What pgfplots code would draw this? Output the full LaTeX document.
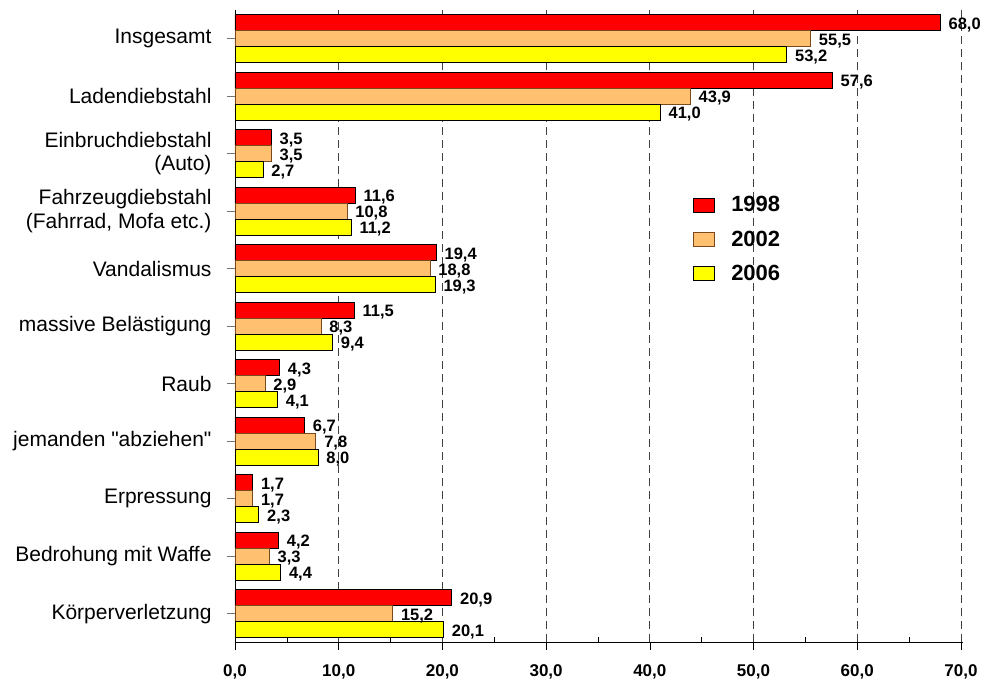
\documentclass[border=0pt]{standalone}
\usepackage{fontspec}
\setmainfont{Liberation Sans}
\usepackage{pgfplots}
\usepackage{pgfplotstable}
\pgfplotsset{compat=1.18}

\definecolor{bar98}{HTML}{FF0000}
\definecolor{bar02}{HTML}{FFC070}
\definecolor{bar06}{HTML}{FFFF00}
\definecolor{edge02}{HTML}{7A4A1E}

% y = 10 is the top row (Insgesamt), y = 0 the bottom row
\pgfplotstableread{
y   v1998 v2002 v2006
10  68.0  55.5  53.2
9   57.6  43.9  41.0
8   3.5   3.5   2.7
7   11.6  10.8  11.2
6   19.4  18.8  19.3
5   11.5  8.3   9.4
4   4.3   2.9   4.1
3   6.7   7.8   8.0
2   1.7   1.7   2.3
1   4.2   3.3   4.4
0   20.9  15.2  20.1
}\datatable

\begin{document}
\begin{tikzpicture}
\useasboundingbox (-235pt,-40pt) rectangle (751pt,642pt);
\begin{axis}[
  scale only axis,
  width=728pt, height=632pt,
  xmin=0, xmax=70.2,
  ymin=-0.49, ymax=10.5,
  xbar, bar width=16pt,
  axis x line=bottom, axis y line=left,
  axis line style={black, line width=0.8pt, -},
  xtick={0,10,...,70},
  minor x tick num=1,
  ytick={0,...,10},
  yticklabels={
    Körperverletzung,
    Bedrohung mit Waffe,
    Erpressung,
    {jemanden \textquotedbl abziehen\textquotedbl},
    Raub,
    massive Belästigung,
    Vandalismus,
    {Fahrzeugdiebstahl\\(Fahrrad, Mofa etc.)},
    {Einbruchdiebstahl\\(Auto)},
    Ladendiebstahl,
    Insgesamt},
  tick align=outside,
  major tick length=8pt,
  minor tick length=5pt,
  minor x tick style={yshift=5pt, black, line width=0.6pt},
  major x tick style={black, line width=0.6pt},
  y tick style={black!55, line width=1pt},
  yticklabel style={align=right, font=\fontsize{21}{23.5}\selectfont, xshift=-12pt},
  xticklabel style={font=\fontsize{17}{20}\selectfont\bfseries, yshift=-11pt},
  /pgf/number format/.cd, fixed, fixed zerofill, precision=1, use comma, assume math mode=true,
  /pgfplots/.cd,
  xmajorgrids,
  major grid style={black!75, line width=0.7pt, dash pattern=on 8pt off 5pt},
  nodes near coords,
  every node near coord/.append style={anchor=west, font=\fontsize{16.5}{19}\selectfont\bfseries,
    inner sep=2pt, xshift=6pt, yshift=-2pt},
  legend style={draw=none, fill=none, at={(axis cs:43.9,7.33)}, anchor=north west,
    font=\fontsize{22}{25}\selectfont\bfseries, row sep=13.5pt,
    nodes={inner xsep=16pt}},
  legend image code/.code={\draw[#1, line width=0.8pt] (0pt,-7pt) rectangle (21pt,7pt);},
  legend cell align=left,
]
\addplot[fill=bar98, draw=black, line width=0.8pt, bar shift=16pt] table[x=v1998, y=y] {\datatable};
\addplot[fill=bar02, draw=edge02, line width=0.8pt, bar shift=0pt] table[x=v2002, y=y] {\datatable};
\addplot[fill=bar06, draw=black, line width=0.8pt, bar shift=-16pt] table[x=v2006, y=y] {\datatable};
\legend{1998, 2002, 2006}
\end{axis}
\end{tikzpicture}
\end{document}
